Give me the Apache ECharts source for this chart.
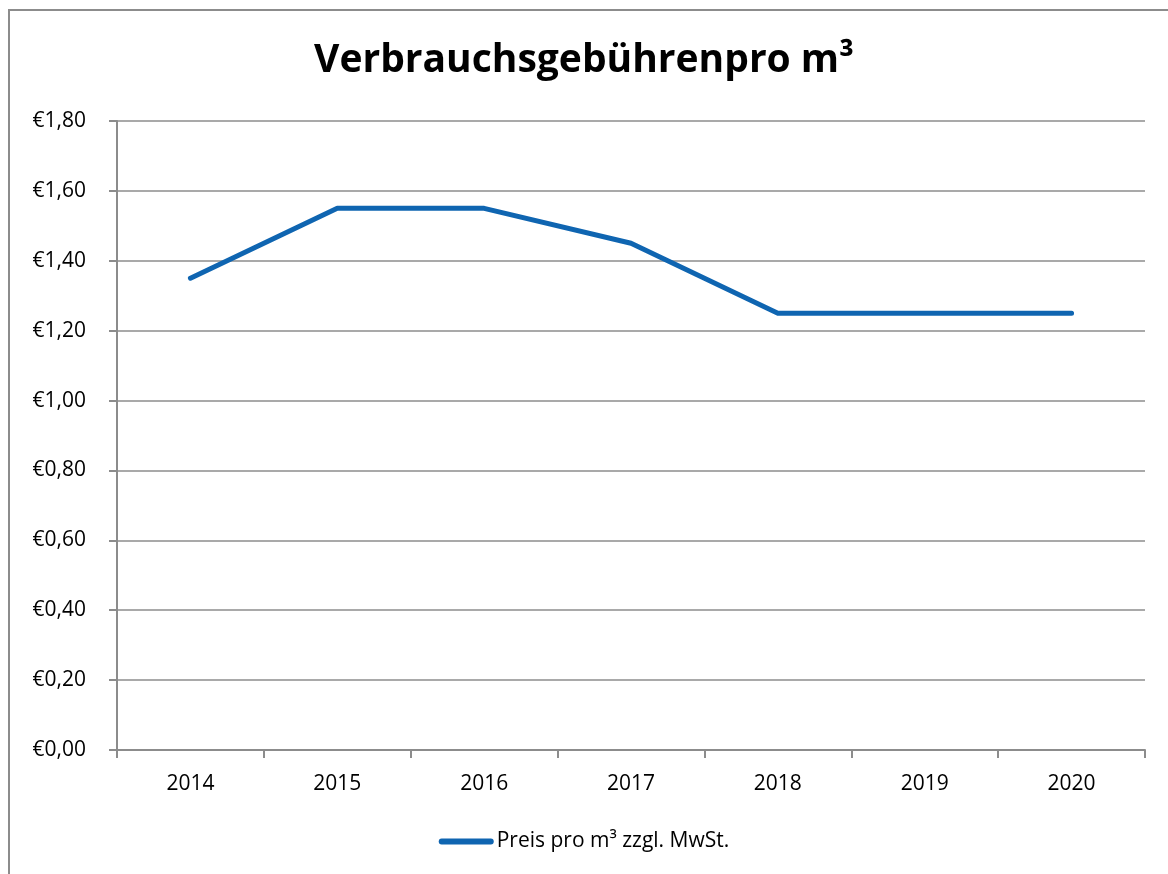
<!DOCTYPE html>
<html>
<head>
<meta charset="utf-8">
<script src="https://cdn.jsdelivr.net/npm/echarts@6/dist/echarts.min.js"></script>
<style>
  html, body { margin: 0; padding: 0; background: #fff; }
  #frame { position: absolute; left: 8px; top: 9px; width: 1160px; height: 865px;
           border-left: 2px solid #8c8c8c; border-top: 2px solid #8c8c8c; }
  #chart { position: absolute; left: 0; top: 0; width: 1168px; height: 874px; }
</style>
</head>
<body>
<div id="frame"></div>
<div id="chart"></div>
<script>
  // Jahre und Preise (EUR pro m³)
  const years = ["2014", "2015", "2016", "2017", "2018", "2019", "2020"];
  const prices = [1.35, 1.55, 1.55, 1.45, 1.25, 1.25, 1.25];
  const seriesName = "Preis pro m³ zzgl. MwSt.";

  const font = "'Open Sans', 'Liberation Sans', sans-serif";
  const chart = echarts.init(document.getElementById("chart"));

  chart.setOption({
    animation: false,
    title: {
      text: "Verbrauchsgebührenpro m³",
      left: "center",
      top: 36,
      textStyle: { fontFamily: font, fontSize: 39, fontWeight: "bold", color: "#000" },
    },
    grid: { left: 117, right: 23, top: 121, bottom: 124 },
    xAxis: {
      type: "category",
      data: years,
      boundaryGap: true,
      axisLine: { lineStyle: { color: "#8c8c8c", width: 2 } },
      axisTick: { show: true, length: 8, lineStyle: { color: "#8c8c8c", width: 2 } },
      axisLabel: { color: "#000", fontFamily: font, fontSize: 21, margin: 24 },
    },
    yAxis: {
      type: "value",
      min: 0,
      max: 1.8,
      interval: 0.2,
      axisLine: { show: true, lineStyle: { color: "#8c8c8c", width: 2 } },
      axisTick: { show: true, length: 8, lineStyle: { color: "#8c8c8c", width: 2 } },
      axisLabel: {
        color: "#000",
        fontFamily: font,
        fontSize: 21,
        margin: 31,
        formatter: (v) => "€" + v.toFixed(2).replace(".", ","),
      },
      splitLine: { lineStyle: { color: "#8c8c8c", width: 1.5 } },
    },
    legend: {
      bottom: 17,
      left: "center",
      itemWidth: 55,
      itemHeight: 10,
      itemGap: 4,
      textStyle: { fontFamily: font, fontSize: 21, color: "#000", padding: [0, 0, 0, -2] },
      data: [{ name: seriesName, icon: "path://M2,0 L53,0 A3,3 0 0 1 53,6 L2,6 A3,3 0 0 1 2,0 Z" }],
    },
    series: [
      {
        name: seriesName,
        type: "line",
        data: prices,
        symbol: "none",
        lineStyle: { color: "#0f65b1", width: 5, cap: "round", join: "round" },
        itemStyle: { color: "#0f65b1" },
      },
    ],
  });
</script>
</body>
</html>
